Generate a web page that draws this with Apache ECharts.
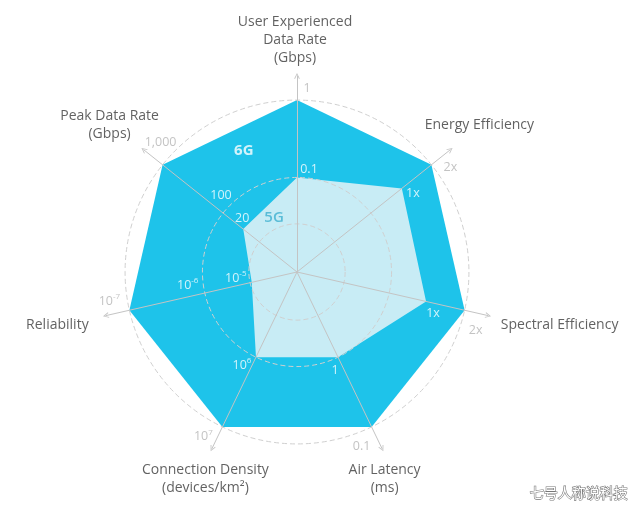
<!DOCTYPE html>
<html>
<head>
<meta charset="utf-8">
<script src="https://cdn.jsdelivr.net/npm/echarts@6/dist/echarts.min.js"></script>
<style>
html,body{margin:0;padding:0;background:#fff;}
#chart{width:640px;height:510px;}
</style>
</head>
<body>
<div id="chart"></div>
<script>
// ---- data (indicators listed counter-clockwise from the top) ----
const indicatorNames = [
  'User Experienced\nData Rate\n(Gbps)',
  'Peak Data Rate\n(Gbps)',
  'Reliability',
  'Connection Density\n(devices/km²)',
  'Air Latency\n(ms)',
  'Spectral Efficiency',
  'Energy Efficiency'
];
// radial position (0 = centre, 100 = 6G outline)
const score6G = [100, 100, 100, 100, 100, 100, 100];
const score5G = [55, 40, 27, 55, 55, 77, 78];
// tick labels at the vertices
const tick6G = ['1', '1,000', '10^-7', '10^7', '0.1', '2x', '2x'];
const tick5G = ['0.1', '20', '10^-5', '10^6', '1', '1x', '1x'];
// intermediate tick labels
const midTickText = ['100', '10^-6'];
const midTickDim = [1, 2];
const midTickScore = [64, 64];
// dashed reference circles
const gridCircles = [28, 55, 100];
const seriesNames = ['6G', '5G'];

// ---- layout / style ----
const CX = 297, CY = 272, R = 196, MAXV = 114;
const N = indicatorNames.length;
const FONT = 'Open Sans';
const nameOffsets = [[-2,-60],[-53,-40],[-72,15],[-17,52],[13,52],[95,15],[48,-40]];
const tick6GOffsets = [[10,-12],[-2,-22],[-20,-9],[-19,10],[-10,20],[11,20],[19,3]];
const tick5GOffsets = [[12,-8],[-1,-11],[-16,-4],[-14,8],[-3,13],[7,12],[11,5]];
const midOffsets = [[10,-8],[-2,-11]];
const seriesLabelPos = [[77, 23.7], [34, 23.1]]; // [radial score, degrees ccw from top]

function angleOf(i){ return i * 360 / N; }
function fmtSup(t){
  const m = t.match(/^10\^(-?\d+)$/);
  return m ? '10{s|' + m[1] + '}' : t;
}

function labelItem(score, dim, text, off, color, size, lh){
  return {
    value: [score, angleOf(dim)],
    label: {
      show: true, position: 'inside', offset: off,
      formatter: fmtSup(text), color: color, fontSize: size,
      fontFamily: FONT,
      align: 'center', verticalAlign: 'middle', lineHeight: lh || 17,
      rich: { s: { color: color, fontSize: 8, lineHeight: 8, padding: [0, 0, 9, 0], fontFamily: FONT } }
    }
  };
}

const labelData = [];
indicatorNames.forEach((n, i) => labelData.push(labelItem(score6G[i], i, n, nameOffsets[i], '#3a3a3a', 14, 18)));
tick6G.forEach((t, i) => labelData.push(labelItem(score6G[i], i, t, tick6GOffsets[i], '#b4b4b4', 12.5)));
tick5G.forEach((t, i) => labelData.push(labelItem(score5G[i], i, t, tick5GOffsets[i], '#ffffff', 12.5)));
midTickText.forEach((t, k) => labelData.push(labelItem(midTickScore[k], midTickDim[k], t, midOffsets[k], '#ffffff', 12.5)));
labelData.push({ value: [seriesLabelPos[0][0], seriesLabelPos[0][1]], label: { show: true, position: 'inside', formatter: seriesNames[0], color: '#ffffff', fontSize: 15, fontWeight: 'bold', fontFamily: FONT } });
labelData.push({ value: [seriesLabelPos[1][0], seriesLabelPos[1][1]], label: { show: true, position: 'inside', formatter: seriesNames[1], color: '#3fb0d0', fontSize: 15, fontWeight: 600, fontFamily: FONT } });

const indicators = indicatorNames.map(n => ({ name: n, min: 0, max: MAXV }));
const chevron = 'path://M0,10 L5,0 L10,10 L8.6,10.8 L5,3.2 L1.4,10.8 Z';

const radars = [{
  center: [CX, CY], radius: R, startAngle: 90, shape: 'circle', splitNumber: 1, z: 3,
  indicator: indicators,
  axisName: { show: false },
  splitLine: { show: false }, splitArea: { show: false },
  axisLine: { show: true, symbol: ['none', chevron], symbolSize: [9, 6], lineStyle: { color: '#c4c4c4', width: 1 } }
}];
gridCircles.forEach(v => radars.push({
  center: [CX, CY], radius: R * v / MAXV, startAngle: 90, shape: 'circle', splitNumber: 1, z: 3,
  indicator: indicators.map(x => ({ name: x.name, min: 0, max: MAXV })),
  axisName: { show: false }, axisLine: { show: false }, splitArea: { show: false },
  splitLine: { show: true, lineStyle: { color: '#d0d0d0', type: [5, 3], width: 1 } }
}));

const chart = echarts.init(document.getElementById('chart'));
chart.setOption({
  animation: false,
  backgroundColor: '#ffffff',
  title: { text: '七号人称说科技', right: 6, bottom: 4, textStyle: { color: '#ffffff', fontSize: 14, fontWeight: 'normal', fontFamily: 'Noto Sans CJK SC', textBorderColor: '#777', textBorderWidth: 1.2 } },
  radar: radars,
  polar: { center: [CX, CY], radius: R },
  angleAxis: { type: 'value', min: 0, max: 360, startAngle: 90, clockwise: false, show: false },
  radiusAxis: { type: 'value', min: 0, max: MAXV, show: false },
  series: [
    { type: 'radar', radarIndex: 0, z: 2, symbol: 'none',
      data: [
        { name: seriesNames[0], value: score6G, lineStyle: { width: 0 }, areaStyle: { color: '#1ec3ea', opacity: 1 } },
        { name: seriesNames[1], value: score5G, lineStyle: { width: 0 }, areaStyle: { color: '#c8ecf5', opacity: 1 } }
      ] },
    { type: 'scatter', coordinateSystem: 'polar', z: 6, symbolSize: 1, itemStyle: { color: 'rgba(0,0,0,0)' }, silent: true, data: labelData }
  ]
});
</script>
</body>
</html>
